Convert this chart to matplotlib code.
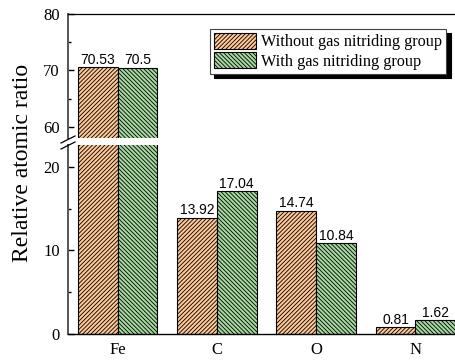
import matplotlib
matplotlib.use("Agg")
import matplotlib.pyplot as plt
import numpy as np

elements = ["Fe", "C", "O", "N"]
without_nitriding = [70.53, 13.92, 14.74, 0.81]
with_nitriding = [70.5, 17.04, 10.84, 1.62]
series_names = ["Without gas nitriding group", "With gas nitriding group"]

serif = "Liberation Serif"
sans = "Liberation Sans"
plt.rcParams["hatch.linewidth"] = 0.6

orange = "#FFC896"
green = "#A6D9A0"

fig = plt.figure(figsize=(4.56, 3.61), dpi=100)
W, H = 456, 361

def frac_rect(x0, y_top, x1, y_bot):
    return [x0 / W, 1 - y_bot / H, (x1 - x0) / W, (y_bot - y_top) / H]

ax_top = fig.add_axes(frac_rect(68, 14, 465, 138))
ax_bot = fig.add_axes(frac_rect(68, 145, 465, 334))

x = np.arange(len(elements))
bw = 0.4
hatch_a = "/" * 8
hatch_b = "\\" * 8

for ax in (ax_top, ax_bot):
    ax.bar(x - bw / 2, without_nitriding, bw, color=orange, edgecolor="black",
           hatch=hatch_a, linewidth=0.8, label=series_names[0])
    ax.bar(x + bw / 2, with_nitriding, bw, color=green, edgecolor="black",
           hatch=hatch_b, linewidth=0.8, label=series_names[1])
    ax.set_xlim(-0.5, 3.5)
    ax.spines["right"].set_visible(False)
    ax.spines["left"].set_color("#555555")
    ax.spines["left"].set_linewidth(1.4)
    ax.tick_params(axis="y", direction="in", length=4, width=1, pad=6,
                   labelsize=12)
    ax.tick_params(axis="y", which="minor", direction="in", length=2.5, width=1)

ax_top.set_ylim(58, 80)
ax_bot.set_ylim(0, 22.6)
ax_top.set_yticks([60, 70, 80])
ax_top.set_yticks([65, 75], minor=True)
ax_bot.set_yticks([0, 10, 20])
ax_bot.set_yticks([5, 15], minor=True)
for ax in (ax_top, ax_bot):
    for lab in ax.get_yticklabels():
        lab.set_fontfamily(serif)

ax_top.spines["bottom"].set_visible(False)
ax_top.spines["top"].set_linewidth(0.9)
ax_top.set_xticks([])
ax_bot.spines["top"].set_visible(False)
ax_bot.spines["bottom"].set_linewidth(1.0)
ax_bot.set_xticks(x)
ax_bot.set_xticklabels(elements, fontfamily=serif, fontsize=12)
ax_bot.tick_params(axis="x", length=0, pad=6)

# value labels
for i in range(len(elements)):
    for off, v in ((-bw / 2, without_nitriding[i]), (bw / 2, with_nitriding[i])):
        ax = ax_top if v > 50 else ax_bot
        ax.annotate(f"{v:g}", (x[i] + off, v), xytext=(0, 0.5),
                    textcoords="offset points", ha="center", va="bottom",
                    fontfamily=sans, fontsize=10)

# axis break marks on the left spine
for yb in (139.5, 145.5):
    fig.add_artist(plt.Line2D([61 / W, 75 / W], [1 - (yb + 3.5) / H, 1 - (yb - 3.5) / H],
                              color="black", lw=0.9, transform=fig.transFigure))

fig.text(23 / W, 1 - 163 / H, "Relative atomic ratio", rotation=90,
         ha="center", va="center", fontfamily=serif, fontsize=17)

leg = ax_top.legend(loc="upper left", bbox_to_anchor=(210 / W, 1 - 29 / H),
                    bbox_transform=fig.transFigure,
                    prop={"family": serif, "size": 11.7}, fancybox=False,
                    shadow={"color": "black", "alpha": 1, "ox": 3, "oy": -3},
                    frameon=True, edgecolor="#444444", framealpha=1,
                    borderpad=0.25, handlelength=2.6, handleheight=1.1,
                    handletextpad=0.3, labelspacing=0.12, borderaxespad=0)
leg.get_frame().set_linewidth(0.8)

fig.savefig("out.png", dpi=100)
